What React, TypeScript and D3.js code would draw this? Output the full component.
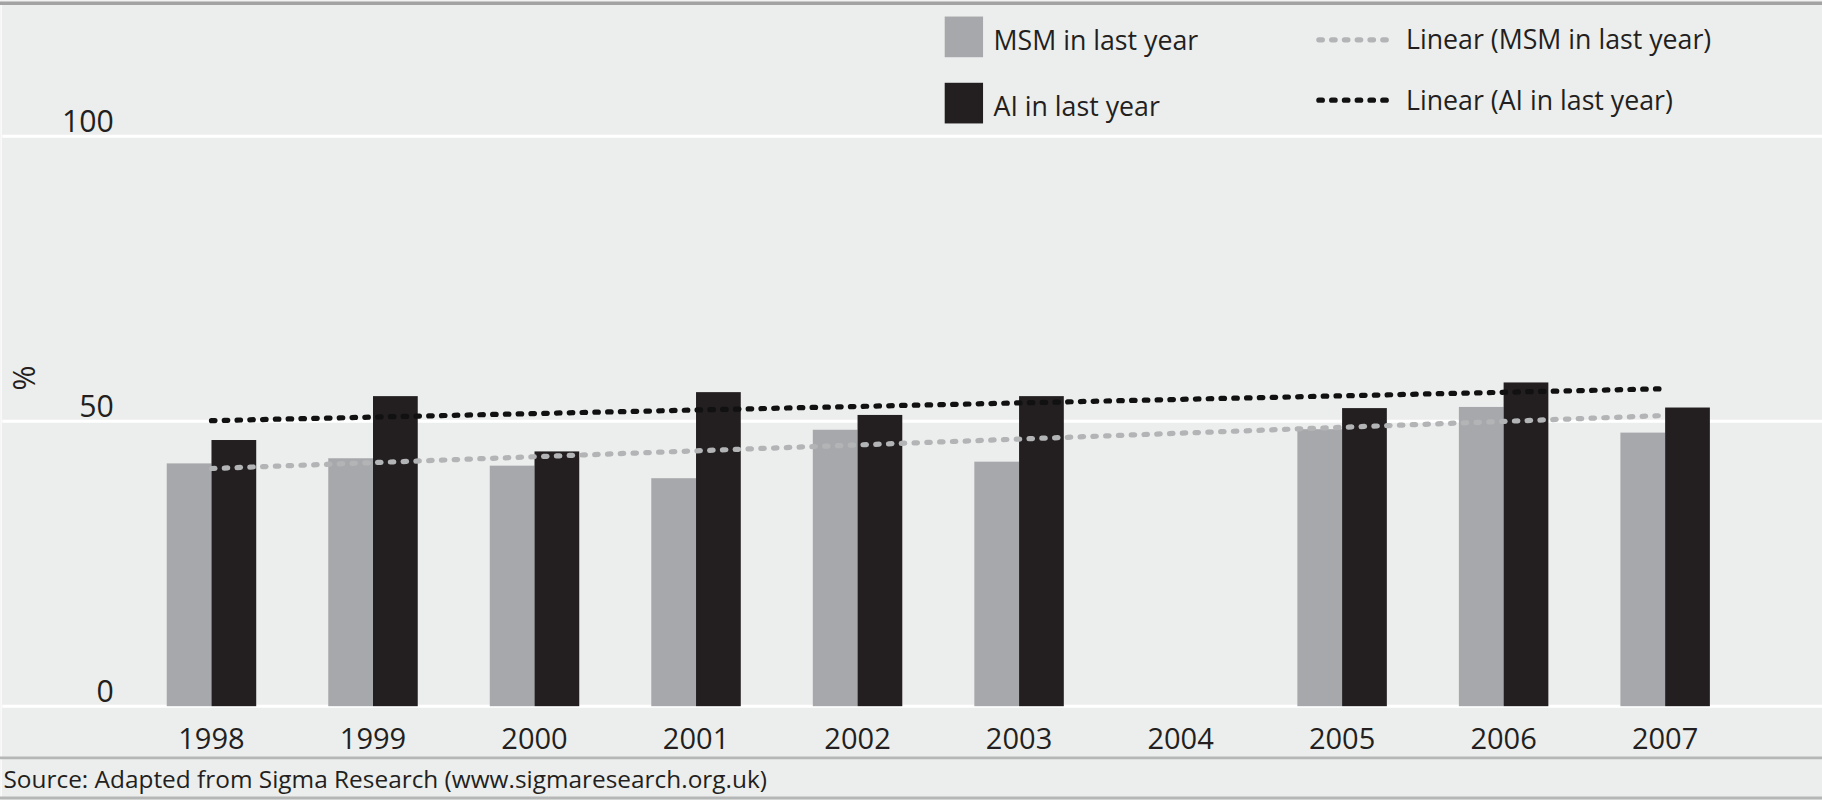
import { useMemo } from "react";
import * as d3 from "d3";

// ── Data ──────────────────────────────────────────────────────────────────────

const YEARS = ["1998", "1999", "2000", "2001", "2002", "2003", "2004", "2005", "2006", "2007"];
// null = no survey that year
const MSM_LAST_YEAR: (number | null)[] = [42.6, 43.5, 42.2, 40.0, 48.5, 42.9, null, 48.6, 52.5, 48.0];
const AI_LAST_YEAR: (number | null)[] = [46.7, 54.4, 44.7, 55.1, 51.1, 54.4, null, 52.3, 56.8, 52.4];
// Linear trend lines, read at the first and last year
const TREND_MSM: [string, number][] = [["1998", 41.7], ["2007", 51.0]];
const TREND_AI: [string, number][] = [["1998", 50.1], ["2007", 55.7]];
const Y_TICKS = [0, 50, 100];
const SOURCE = "Source: Adapted from Sigma Research (www.sigmaresearch.org.uk)";

// ── Styling ───────────────────────────────────────────────────────────────────

const W = 1568;
const H = 688;
const BG = "#eceeed";
const GREY = "#a7a8ab";
const GREY_LINE = "#b3b4b6";
const BLACK = "#231f20";
const FONT = "'Open Sans', 'Noto Sans', sans-serif";

const SERIES = [
  { key: "msm", label: "MSM in last year", values: MSM_LAST_YEAR, colour: GREY },
  { key: "ai", label: "AI in last year", values: AI_LAST_YEAR, colour: BLACK },
];

const TRENDS = [
  { key: "tmsm", label: "Linear (MSM in last year)", pts: TREND_MSM, colour: GREY_LINE },
  { key: "tai", label: "Linear (AI in last year)", pts: TREND_AI, colour: "#111" },
];

export default function App() {
  const x = useMemo(
    () => d3.scaleBand<string>().domain(YEARS).range([112.5, 1502.5]).paddingInner(0.446).paddingOuter(0.223),
    []
  );
  const xInner = useMemo(
    () => d3.scaleBand<string>().domain(SERIES.map((s) => s.key)).range([0, x.bandwidth()]),
    [x]
  );
  const y = useMemo(() => d3.scaleLinear().domain([0, 100]).range([607.5, 117]), []);

  const trendLine = d3
    .line<[string, number]>()
    .x((d) => (x(d[0]) ?? 0) + x.bandwidth() / 2)
    .y((d) => y(d[1]));

  return (
    <svg
      width={1822}
      height={800}
      viewBox={`0 0 ${W} ${H}`}
      style={{ position: "absolute", left: 0, top: 0, fontFamily: FONT }}
    >
      <rect x={0} y={0} width={W} height={H} fill={BG} />
      {/* frame */}
      <line x1={0} x2={W} y1={2.5} y2={2.5} stroke="#a3a3a3" strokeWidth={3} />
      <line x1={1} x2={1} y1={4} y2={H} stroke="#fafafa" strokeWidth={1.5} />
      <line x1={0} x2={W} y1={652} y2={652} stroke="#b5b6b6" strokeWidth={2.5} />
      <line x1={0} x2={W} y1={686.5} y2={686.5} stroke="#b5b6b6" strokeWidth={2.5} />

      {/* gridlines + y labels */}
      {Y_TICKS.map((t) => (
        <g key={t}>
          <line x1={2} x2={W} y1={y(t)} y2={y(t)} stroke="#fff" strokeWidth={2.5} />
          <text x={98} y={y(t) - 4} textAnchor="end" fontSize={26} fill={BLACK}>
            {t}
          </text>
        </g>
      ))}
      <text
        transform={`translate(30,325) rotate(-90)`}
        textAnchor="middle"
        fontSize={26}
        fill={BLACK}
      >
        %
      </text>

      {/* bars */}
      {SERIES.map((s) =>
        s.values.map((v, i) =>
          v == null ? null : (
            <rect
              key={`${s.key}-${i}`}
              x={(x(YEARS[i]) ?? 0) + (xInner(s.key) ?? 0)}
              y={y(v)}
              width={xInner.bandwidth()}
              height={y(0) - y(v)}
              fill={s.colour}
            />
          )
        )
      )}

      {/* trend lines */}
      {TRENDS.map((t) => (
        <path
          key={t.key}
          d={trendLine(t.pts) ?? ""}
          fill="none"
          stroke={t.colour}
          strokeWidth={4.5}
          strokeDasharray="3 8"
          strokeLinecap="round"
        />
      ))}

      {/* x labels */}
      {YEARS.map((yr) => (
        <text
          key={yr}
          x={(x(yr) ?? 0) + x.bandwidth() / 2}
          y={644}
          textAnchor="middle"
          fontSize={25}
          fill={BLACK}
        >
          {yr}
        </text>
      ))}

      {/* legend */}
      {SERIES.map((s, i) => (
        <g key={s.key} transform={`translate(813,${14 + i * 57})`}>
          <rect x={0} y={0} width={33} height={35} fill={s.colour} />
          <text x={42} y={29} fontSize={23} fill={BLACK}>
            {s.label}
          </text>
        </g>
      ))}
      {TRENDS.map((t, i) => (
        <g key={t.key} transform={`translate(1133,${34 + i * 52})`}>
          <line x1={2} x2={66} y1={0} y2={0} stroke={t.colour} strokeWidth={4.5} strokeDasharray="3 8" strokeLinecap="round" />
          <text x={77} y={8} fontSize={23} fill={BLACK}>
            {t.label}
          </text>
        </g>
      ))}

      {/* source */}
      <text x={3} y={678} fontSize={21} fill={BLACK}>
        {SOURCE}
      </text>
    </svg>
  );
}
